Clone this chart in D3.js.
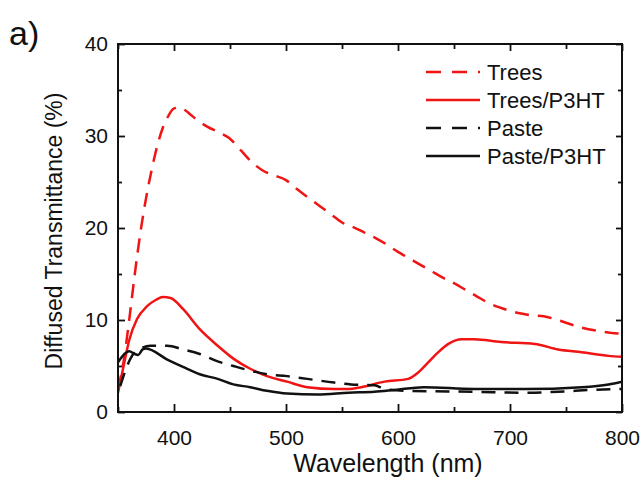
<!DOCTYPE html>
<html>
<head>
<meta charset="utf-8">
<script src="https://cdn.jsdelivr.net/npm/d3@7"></script>
<style>
  body { margin: 0; background: #fff; }
  text { font-family: "Liberation Sans", Arial, sans-serif; fill: #111; }
</style>
</head>
<body>
<div id="chart"></div>
<script>
// ------------------------------ DATA ------------------------------
var seriesNames = ["Trees", "Trees/P3HT", "Paste", "Paste/P3HT"];

// wavelength (nm) / diffused transmittance (%) pairs
var treesWl = [350, 355, 360, 365, 370, 375, 380, 385, 390, 395, 400, 405, 410, 415, 420, 430, 440, 450, 460, 470, 480, 490, 500, 510, 520, 530, 540, 550, 560, 570, 580, 590, 600, 610, 620, 630, 640, 650, 660, 670, 680, 690, 700, 710, 720, 730, 740, 750, 760, 770, 780, 790, 800];
var treesVal = [2.5, 5.5, 10, 15, 19.5, 23.2, 26.3, 28.9, 30.9, 32.2, 33.0, 33.1, 32.8, 32.3, 31.8, 31.0, 30.4, 29.7, 28.4, 27.1, 26.2, 25.7, 25.2, 24.2, 23.3, 22.4, 21.5, 20.6, 20.1, 19.5, 18.9, 18.2, 17.4, 16.7, 16.0, 15.3, 14.6, 14.0, 13.3, 12.6, 11.9, 11.4, 11.0, 10.7, 10.5, 10.4, 10.1, 9.7, 9.3, 9.0, 8.8, 8.6, 8.5];

var treesP3htWl = [350, 355, 360, 367, 376, 384, 390, 397, 408, 423, 439, 453, 468, 483, 501, 519, 543, 556, 567, 588, 609, 618, 627, 636, 645, 657, 668, 692, 722, 743, 764, 788, 800];
var treesP3htVal = [2.1, 5.0, 7.8, 10.1, 11.5, 12.2, 12.5, 12.4, 11.2, 9.0, 7.2, 5.8, 4.7, 3.9, 3.3, 2.7, 2.5, 2.5, 2.7, 3.3, 3.6, 4.3, 5.4, 6.5, 7.4, 7.9, 7.9, 7.6, 7.4, 6.8, 6.5, 6.1, 6.0];

var pasteWl = [352, 356, 362, 372, 379, 394, 408, 423, 439, 453, 468, 483, 501, 519, 543, 558, 579, 588, 609, 668, 713, 743, 773, 800];
var pasteVal = [2.8, 4.3, 6.0, 7.0, 7.2, 7.2, 6.8, 6.3, 5.5, 5.0, 4.5, 4.1, 3.9, 3.6, 3.2, 3.0, 2.9, 2.5, 2.3, 2.2, 2.1, 2.2, 2.4, 2.5];

var pasteP3htWl = [350, 355, 360, 365, 368, 372, 375, 394, 408, 423, 439, 453, 468, 483, 501, 528, 556, 579, 597, 623, 668, 713, 764, 788, 800];
var pasteP3htVal = [5.4, 6.2, 6.6, 6.3, 6.2, 6.8, 6.9, 5.7, 4.9, 4.1, 3.6, 3.0, 2.7, 2.3, 2.0, 1.9, 2.1, 2.2, 2.4, 2.7, 2.5, 2.5, 2.7, 3.0, 3.3];

var xTicks = [400, 500, 600, 700, 800];
var xMinorTicks = [350, 450, 550, 650, 750];
var yTicks = [0, 10, 20, 30, 40];
var yMinorTicks = [5, 15, 25, 35];

// ------------------------------ CANVAS ------------------------------
var svgWidth = 644, svgHeight = 477;
var margin = {left: 118, right: 22, top: 44, bottom: 65};
var width = svgWidth - margin.left - margin.right,
    height = svgHeight - margin.top - margin.bottom;

var svg = d3.select("#chart").append("svg")
    .attr("width", svgWidth)
    .attr("height", svgHeight);

var g = svg.append("g")
    .attr("transform", `translate(${margin.left}, ${margin.top})`);

// ------------------------------ SCALES ------------------------------
var x = d3.scaleLinear().domain([350, 800]).range([0, width]);
var y = d3.scaleLinear().domain([0, 40]).range([height, 0]);

// ------------------------------ CURVES ------------------------------
var red = "#f01414";
var series = [
  {wl: treesWl, val: treesVal, color: red, dash: "14,9"},
  {wl: treesP3htWl, val: treesP3htVal, color: red, dash: null},
  {wl: pasteWl, val: pasteVal, color: "#111", dash: "14,9"},
  {wl: pasteP3htWl, val: pasteP3htVal, color: "#111", dash: null}
];

g.append("clipPath").attr("id", "clip")
  .append("rect").attr("width", width).attr("height", height);

var line = d3.line()
    .x(d => x(d[0]))
    .y(d => y(d[1]))
    .curve(d3.curveMonotoneX);

var curves = g.append("g").attr("clip-path", "url(#clip)");
series.forEach(function(s) {
  curves.append("path")
    .datum(d3.zip(s.wl, s.val))
    .attr("d", line)
    .attr("fill", "none")
    .attr("stroke", s.color)
    .attr("stroke-width", 2.5)
    .attr("stroke-dasharray", s.dash);
});

// ------------------------------ AXES ------------------------------
function styleAxis(sel) {
  sel.select(".domain").remove();
  sel.selectAll("line").attr("stroke", "#111").attr("stroke-width", 1.8);
  sel.selectAll("text").style("font-size", "21px").style("font-family", "Liberation Sans, Arial, sans-serif").attr("fill", "#111");
}

// bottom major + minor
g.append("g").attr("transform", `translate(0, ${height})`)
  .call(d3.axisBottom(x).tickValues(xTicks).tickSizeInner(-8).tickSizeOuter(0).tickPadding(18))
  .call(styleAxis);
g.append("g").attr("transform", `translate(0, ${height})`)
  .call(d3.axisBottom(x).tickValues(xMinorTicks).tickSize(-5).tickFormat(""))
  .call(styleAxis);
// top mirrored
g.append("g")
  .call(d3.axisTop(x).tickValues(xTicks).tickSize(-7).tickFormat(""))
  .call(styleAxis);
g.append("g")
  .call(d3.axisTop(x).tickValues(xMinorTicks).tickSize(-5).tickFormat(""))
  .call(styleAxis);

// left major + minor
g.append("g")
  .call(d3.axisLeft(y).tickValues(yTicks).tickSize(-7).tickPadding(10))
  .call(styleAxis);
g.append("g")
  .call(d3.axisLeft(y).tickValues(yMinorTicks).tickSize(-4).tickFormat(""))
  .call(styleAxis);
// right mirrored
g.append("g").attr("transform", `translate(${width}, 0)`)
  .call(d3.axisRight(y).tickValues(yTicks).tickSize(-6).tickFormat(""))
  .call(styleAxis);
g.append("g").attr("transform", `translate(${width}, 0)`)
  .call(d3.axisRight(y).tickValues(yMinorTicks).tickSize(-4).tickFormat(""))
  .call(styleAxis);

// frame
g.append("rect")
  .attr("width", width).attr("height", height)
  .attr("fill", "none").attr("stroke", "#111").attr("stroke-width", 2);

// ------------------------------ LABELS ------------------------------
svg.append("text")
  .attr("x", 9).attr("y", 45)
  .style("font-size", "34px")
  .text("a)");

svg.append("text")
  .attr("x", 388).attr("y", 472)
  .attr("text-anchor", "middle")
  .style("font-size", "25px")
  .text("Wavelength (nm)");

svg.append("text")
  .attr("transform", "translate(62, 231) rotate(-90)")
  .attr("text-anchor", "middle")
  .style("font-size", "23px")
  .text("Diffused Transmittance (%)");

// ------------------------------ LEGEND ------------------------------
var legend = svg.append("g").attr("transform", "translate(426, 72)");
series.forEach(function(s, i) {
  var row = legend.append("g").attr("transform", `translate(0, ${i * 28})`);
  row.append("line")
    .attr("x1", 0).attr("x2", 54)
    .attr("stroke", s.color)
    .attr("stroke-width", 2.5)
    .attr("stroke-dasharray", s.dash ? "15,11" : null);
  row.append("text")
    .attr("x", 61).attr("dy", "0.36em")
    .style("font-size", "22px")
    .text(seriesNames[i]);
});
</script>
</body>
</html>
